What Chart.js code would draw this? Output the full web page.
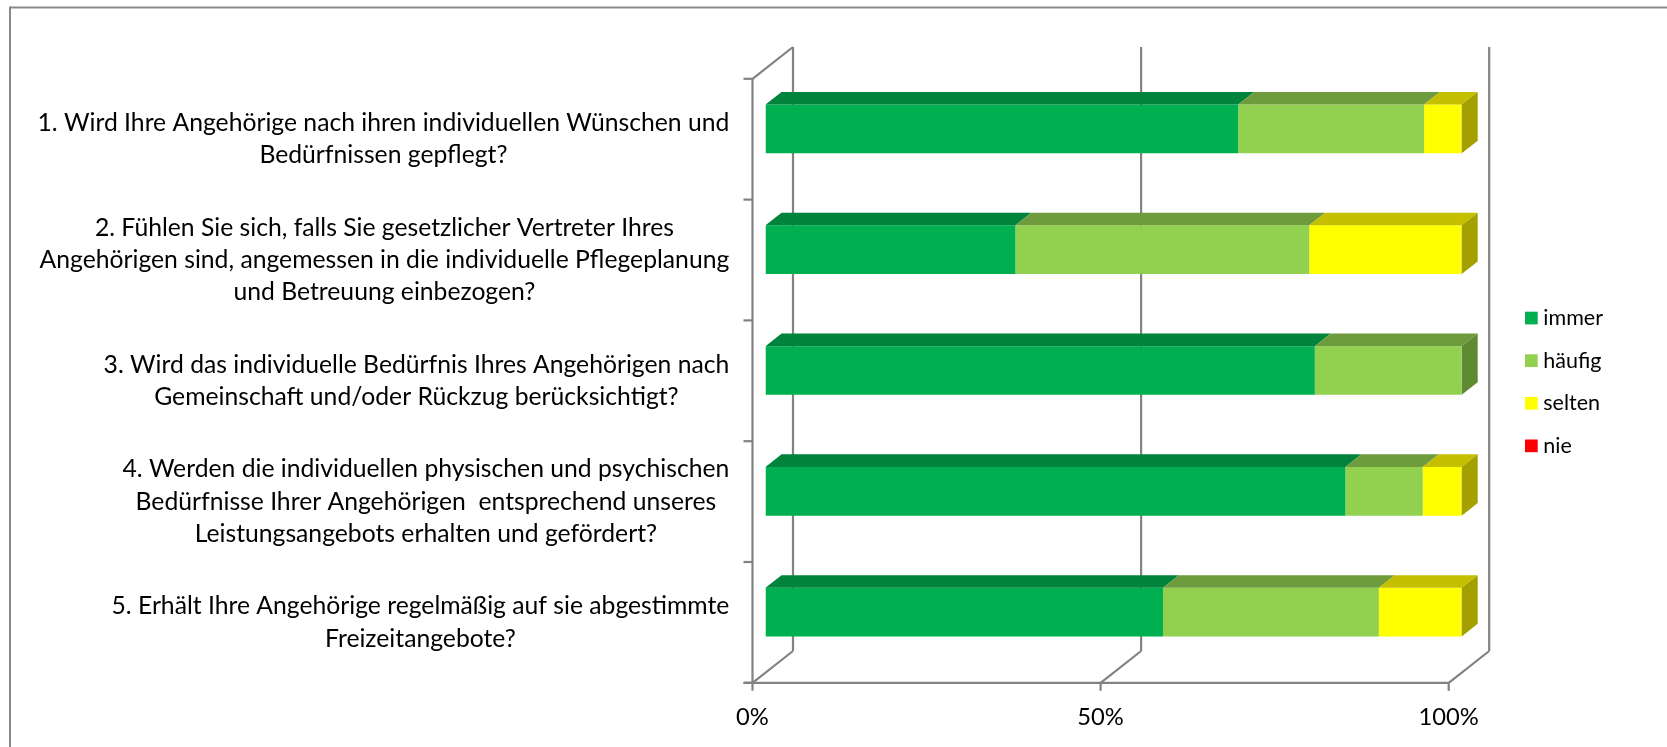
<!DOCTYPE html>
<html><head><meta charset="utf-8">
<script src="https://cdn.jsdelivr.net/npm/chart.js@4.4.1/dist/chart.umd.min.js"></script>
<style>html,body{margin:0;padding:0;background:#fff;}#wrap{width:1667px;height:747px;position:relative;}</style>
</head><body><div id="wrap"><canvas id="c" width="1667" height="747"></canvas></div>
<script>
const categories = [
  ["1. Wird Ihre Angehörige nach ihren individuellen Wünschen und", "Bedürfnissen gepflegt?"],
  ["2. Fühlen Sie sich, falls Sie gesetzlicher Vertreter Ihres", "Angehörigen sind, angemessen in die individuelle Pflegeplanung", "und Betreuung einbezogen?"],
  ["3. Wird das individuelle Bedürfnis Ihres Angehörigen nach", "Gemeinschaft und/oder Rückzug berücksichtigt?"],
  ["4. Werden die individuellen physischen und psychischen", "Bedürfnisse Ihrer Angehörigen  entsprechend unseres", "Leistungsangebots erhalten und gefördert?"],
  ["5. Erhält Ihre Angehörige regelmäßig auf sie abgestimmte", "Freizeitangebote?"]
];
const seriesNames = ["immer", "häufig", "selten", "nie"];
const immer   = [67.9, 35.9, 78.9, 83.3, 57.1];
const haeufig = [26.7, 42.2, 21.1, 11.1, 31.0];
const selten  = [5.4, 21.9, 0, 5.6, 11.9];
const nie     = [0, 0, 0, 0, 0];
const xTickValues = [0, 50, 100];
const xTickLabels = ["0%", "50%", "100%"];

const frontColors = ["#00B050", "#92D050", "#FFFF00", "#FF0000"];
const topColors   = ["#00843C", "#6E9C3C", "#C4C000", "#C00000"];
const sideColors  = ["#006B31", "#5E8A33", "#A3A000", "#A00000"];

const FONT = 'Lato, "Open Sans", sans-serif';
const F = {x: -13, y: 10.3};   // front plane offset from bar plane
const B = {x: 27.5, y: -21.5}; // back wall offset from bar plane
const D = {x: 16, y: -12.6};   // bar depth
const GRID = "#828282";

function line(ctx, x1, y1, x2, y2) { ctx.beginPath(); ctx.moveTo(x1, y1); ctx.lineTo(x2, y2); ctx.stroke(); }
function poly(ctx, pts, color) {
  ctx.beginPath(); ctx.moveTo(pts[0][0], pts[0][1]);
  for (let k = 1; k < pts.length; k++) ctx.lineTo(pts[k][0], pts[k][1]);
  ctx.closePath(); ctx.fillStyle = color; ctx.fill();
}

const threeD = {
  id: "threeD",
  beforeDraw(chart) {
    const ctx = chart.ctx;
    ctx.save();
    ctx.strokeStyle = "#8A8A8A"; ctx.lineWidth = 2;
    line(ctx, 10, 7.5, 1667, 7.5);
    line(ctx, 10, 6.5, 10, 747);
    ctx.restore();
  },
  beforeDatasetsDraw(chart) {
    const {ctx, scales: {x, y}, chartArea: a} = chart;
    ctx.save();
    ctx.strokeStyle = GRID; ctx.lineWidth = 2.2;
    const fTop = a.top + F.y, fBot = a.bottom + F.y, bTop = a.top + B.y, bBot = a.bottom + B.y;
    xTickValues.forEach(v => {
      const px = x.getPixelForValue(v);
      line(ctx, px + B.x, bTop, px + B.x, bBot);
      line(ctx, px + F.x, fBot, px + B.x, bBot);
      line(ctx, px + F.x, fBot, px + F.x, fBot + 8);
    });
    const x0 = x.getPixelForValue(0) + F.x;
    const x100 = x.getPixelForValue(100) + F.x;
    line(ctx, x0, fTop, x0, fBot + 1);
    line(ctx, x0, fTop, x.getPixelForValue(0) + B.x, bTop);
    line(ctx, x0 - 9, fBot, x100 + 1, fBot);
    const band = Math.abs(y.getPixelForValue(1) - y.getPixelForValue(0));
    for (let i = 0; i <= categories.length; i++) {
      const yy = y.getPixelForValue(0) - band / 2 + i * band + F.y;
      line(ctx, x0 - 9, yy, x0, yy);
    }
    ctx.restore();
  },
  afterDatasetsDraw(chart) {
    const ctx = chart.ctx;
    ctx.save();
    const nDs = chart.data.datasets.length;
    for (let i = 0; i < categories.length; i++) {
      let last = -1;
      for (let d = 0; d < nDs; d++) {
        const el = chart.getDatasetMeta(d).data[i];
        const p = el.getProps(["x", "y", "base", "height"], true);
        const x1 = Math.min(p.x, p.base), x2 = Math.max(p.x, p.base);
        if (x2 - x1 < 0.5) continue;
        last = d;
        const top = p.y - p.height / 2;
        poly(ctx, [[x1, top], [x2, top], [x2 + D.x, top + D.y], [x1 + D.x, top + D.y]], topColors[d]);
      }
      if (last >= 0) {
        const el = chart.getDatasetMeta(last).data[i];
        const p = el.getProps(["x", "y", "base", "height"], true);
        const x2 = Math.max(p.x, p.base);
        const top = p.y - p.height / 2, bot = p.y + p.height / 2;
        poly(ctx, [[x2, top], [x2 + D.x, top + D.y], [x2 + D.x, bot + D.y], [x2, bot]], sideColors[last]);
      }
    }
    ctx.restore();
  },
  afterDraw(chart) {
    const {ctx, scales: {x, y}, chartArea: a} = chart;
    ctx.save();
    ctx.font = "100px " + FONT;
    const labelSize = 100 * 692 / ctx.measureText(categories[0][0]).width;
    const lineH = 32.3;
    const blockRight = 729.3;
    ctx.fillStyle = "#000";
    ctx.textBaseline = "middle";
    ctx.textAlign = "center";
    ctx.font = labelSize.toFixed(2) + "px " + FONT;
    categories.forEach((lines, i) => {
      const cy = y.getPixelForValue(i) + F.y;
      let w = 0;
      lines.forEach(l => { w = Math.max(w, ctx.measureText(l).width); });
      const cx = blockRight - w / 2;
      lines.forEach((l, j) => {
        ctx.fillText(l, cx, cy + (j - (lines.length - 1) / 2) * lineH);
      });
    });
    ctx.font = (labelSize * 0.96).toFixed(2) + "px " + FONT;
    xTickValues.forEach((v, k) => {
      ctx.fillText(xTickLabels[k], x.getPixelForValue(v) + F.x, a.bottom + F.y + 35);
    });
    ctx.font = (labelSize * 0.87).toFixed(2) + "px " + FONT;
    ctx.textAlign = "left";
    chart.data.datasets.forEach((ds, d) => {
      const cy = 318 + d * 42.6;
      ctx.fillStyle = ds.backgroundColor;
      ctx.fillRect(1525, cy - 6.3, 12.7, 12.7);
      ctx.fillStyle = "#000";
      ctx.fillText(ds.label, 1543.3, cy);
    });
    ctx.restore();
  }
};

const seriesValues = [immer, haeufig, selten, nie];
new Chart(document.getElementById("c"), {
  type: "bar",
  data: {
    labels: categories.map(c => c.join(" ")),
    datasets: seriesNames.map((name, d) => ({
      label: name,
      data: seriesValues[d],
      backgroundColor: frontColors[d],
      borderWidth: 0,
      barPercentage: 0.403,
      categoryPercentage: 1
    }))
  },
  options: {
    indexAxis: "y",
    responsive: false,
    animation: false,
    devicePixelRatio: 1,
    layout: {padding: {left: 765.5, right: 205.3, top: 68.5, bottom: 74.5}},
    scales: {
      x: {stacked: true, min: 0, max: 100, display: false},
      y: {stacked: true, display: false}
    },
    plugins: {legend: {display: false}, tooltip: {enabled: false}}
  },
  plugins: [threeD]
});
</script></body></html>
